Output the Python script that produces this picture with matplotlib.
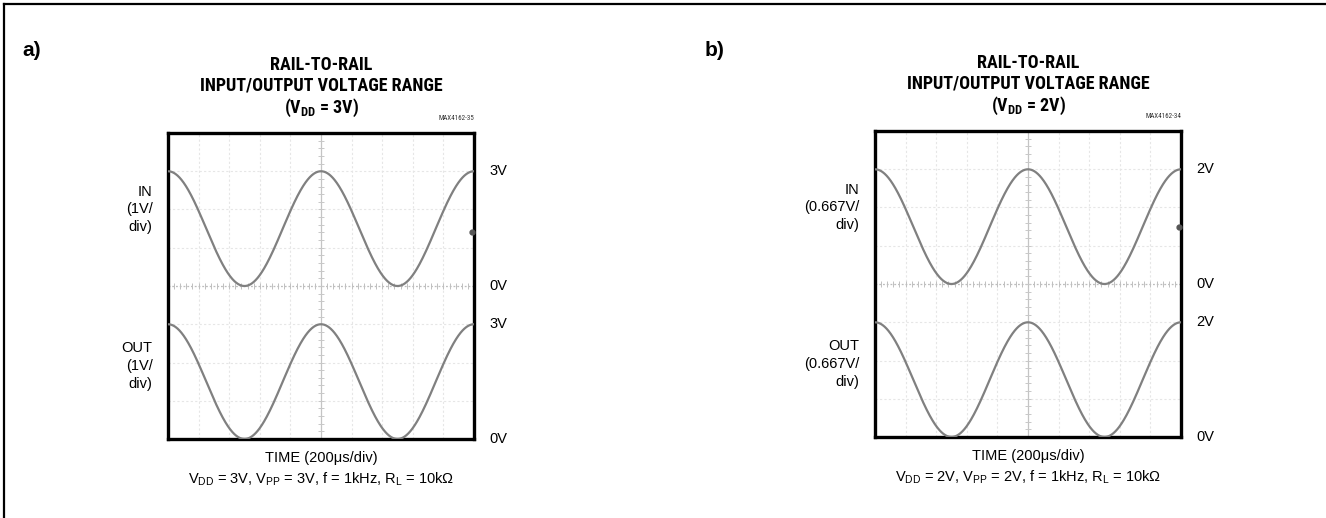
import numpy as np
import matplotlib.pyplot as plt
from matplotlib import font_manager
from matplotlib.lines import Line2D

# fonts: titles in a narrow bold sans (original uses Helvetica Narrow Bold),
# labels in a regular Helvetica-like sans
faces = {}
for f in font_manager.fontManager.ttflist:
    if f.style == "normal":
        faces.setdefault(f.name, set()).add(int(f.weight) if str(f.weight).isdigit() else 400)
narrow = None
for cand in ["Liberation Sans Narrow", "Arial Narrow", "Roboto Condensed", "Barlow Semi Condensed",
             "Asap Condensed", "Open Sans Condensed"]:
    if 700 in faces.get(cand, set()):
        narrow = cand
        break
have_narrow = narrow is not None
if narrow is None:
    narrow = "Liberation Sans"
base = ["Liberation Sans", "DejaVu Sans"]
plt.rcParams["font.family"] = base
plt.rcParams["mathtext.fontset"] = "custom"
plt.rcParams["mathtext.rm"] = "Liberation Sans"
plt.rcParams["mathtext.it"] = "Liberation Sans"
plt.rcParams["mathtext.bf"] = narrow + ":bold"
plt.rcParams["mathtext.fallback"] = "stixsans"

# scope settings and signal parameters for the two panels
panel_tags = ["a)", "b)"]
vdd = [3.0, 2.0]              # supply (V), also Vpp of input
vdiv = [1.0, 0.667]           # V/div
vdiv_text = ["1V/", "0.667V/"]
freq_khz = [1.0, 1.0]
rl_text = ["10k", "10k"]
part_ids = ["MAX4162-35", "MAX4162-34"]
marker_div = [5.4, 5.5]       # trigger marker on right edge
time_per_div = 200.0          # us/div
n_xdiv, n_ydiv = 10, 8
in_zero_div = 4               # IN trace 0V level (div from bottom)
out_zero_div = 0              # OUT trace 0V level

title_fs = 13 if have_narrow else 10.8
label_fs = 10.5
title_font = [narrow, "DejaVu Sans"]

fig = plt.figure(figsize=(13.26, 5.18), dpi=100)
W, H = 1326, 518

# outer frame (top and left only)
fig.add_artist(Line2D([4 / W, 4 / W], [0, 1 - 4 / H], color="black", lw=1.6, transform=fig.transFigure))
fig.add_artist(Line2D([4 / W, 1], [1 - 4 / H, 1 - 4 / H], color="black", lw=1.6, transform=fig.transFigure))

boxes = [(168, 133), (875, 131)]   # top-left px of scope screens
box_size = 306
tag_x = [22, 705]

for i in range(2):
    x0, y0 = boxes[i]
    ax = fig.add_axes([x0 / W, 1 - (y0 + box_size) / H, box_size / W, box_size / H])
    tmax = n_xdiv * time_per_div
    ax.set_xlim(0, tmax)
    ax.set_ylim(0, n_ydiv)

    # graticule
    for k in range(1, n_xdiv):
        if k != n_xdiv // 2:
            ax.axvline(k * time_per_div, color="#e6e6e6", lw=0.8, ls=(0, (2, 2)), zorder=1)
    for k in range(1, n_ydiv):
        if k != n_ydiv // 2:
            ax.axhline(k, color="#e6e6e6", lw=0.8, ls=(0, (2, 2)), zorder=1)
    ax.axvline(tmax / 2, color="#c4c4c4", lw=0.9, zorder=1)
    ax.axhline(n_ydiv / 2, color="#bdbdbd", lw=0.9, ls=(0, (1.5, 1.5)), zorder=1)
    minor_t = np.arange(0, tmax + 1, time_per_div / 5)
    ax.plot(minor_t, np.full_like(minor_t, n_ydiv / 2), "|", color="#c0c0c0", ms=4, mew=0.7, zorder=1)
    minor_y = np.arange(0, n_ydiv + 0.01, 0.2)
    ax.plot(np.full_like(minor_y, tmax / 2), minor_y, "_", color="#c8c8c8", ms=4, mew=0.7, zorder=1)

    # traces
    t = np.linspace(0, tmax, 800)
    period = 1000.0 / freq_khz[i]
    v = vdd[i] / 2 * (1 + np.cos(2 * np.pi * t / period))
    ax.plot(t, in_zero_div + v / vdiv[i], color="#808080", lw=1.6, zorder=3)
    ax.plot(t, out_zero_div + v / vdiv[i], color="#808080", lw=1.6, zorder=3)
    ax.plot([tmax * 0.995], [marker_div[i]], "o", color="#555555", ms=3.5, zorder=4, clip_on=False)

    ax.set_xticks([])
    ax.set_yticks([])
    for s in ax.spines.values():
        s.set_linewidth(2.4)
        s.set_color("black")

    # right-hand level labels
    span = vdd[i] / vdiv[i]
    vlab = "%dV" % vdd[i]
    for yy, lab in [(in_zero_div + span, vlab), (in_zero_div, "0V"),
                    (out_zero_div + span, vlab), (out_zero_div, "0V")]:
        ax.text(1.05, yy, lab, transform=ax.get_yaxis_transform(), ha="left", va="center", fontsize=label_fs)

    # left-hand channel labels
    ax.text(-0.05, 6.0, "IN\n(%s\ndiv)" % vdiv_text[i], transform=ax.get_yaxis_transform(),
            ha="right", va="center", fontsize=label_fs, linespacing=1.35)
    ax.text(-0.05, 1.9, "OUT\n(%s\ndiv)" % vdiv_text[i], transform=ax.get_yaxis_transform(),
            ha="right", va="center", fontsize=label_fs, linespacing=1.35)

    # titles
    ax.text(0.5, 1 + 68 / box_size, "RAIL-TO-RAIL", transform=ax.transAxes, ha="center",
            va="center", fontsize=title_fs, fontweight="bold", family=title_font)
    ax.text(0.5, 1 + 47 / box_size, "INPUT/OUTPUT VOLTAGE RANGE", transform=ax.transAxes,
            ha="center", va="center", fontsize=title_fs, fontweight="bold", family=title_font)
    ax.text(0.5, 1 + 25 / box_size, r"(V$_{\mathbf{DD}}$ = %dV)" % vdd[i], transform=ax.transAxes,
            ha="center", va="center", fontsize=title_fs, fontweight="bold", family=title_font)
    ax.text(1.0, 1 + 14 / box_size, part_ids[i], transform=ax.transAxes, ha="right",
            va="center", fontsize=5, color="#333333", family=title_font)

    # bottom captions
    ax.text(0.5, -19 / box_size, "TIME (%dμs/div)" % time_per_div, transform=ax.transAxes,
            ha="center", va="center", fontsize=label_fs)
    ax.text(0.5, -40 / box_size,
            r"V$_{\rm DD}$ = %dV, V$_{\rm PP}$ = %dV, f = %dkHz, R$_{\rm L}$ = %sΩ"
            % (vdd[i], vdd[i], freq_khz[i], rl_text[i]),
            transform=ax.transAxes, ha="center", va="center", fontsize=label_fs)

    fig.text(tag_x[i] / W, 1 - 50 / H, panel_tags[i], ha="left", va="center",
             fontsize=15, fontweight="bold")

fig.savefig("out.png", dpi=100)
